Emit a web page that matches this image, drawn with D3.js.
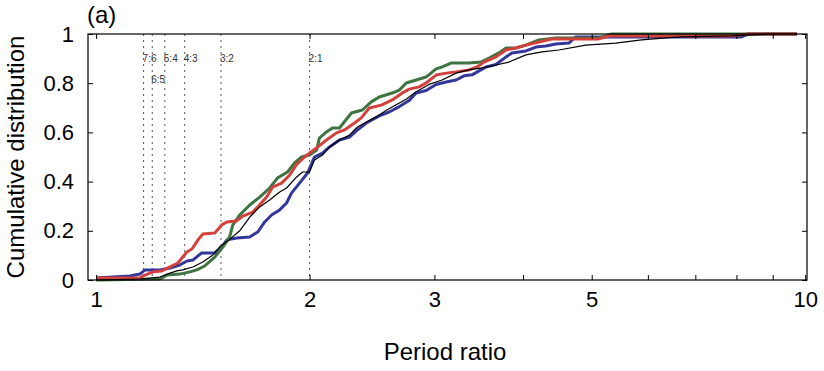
<!DOCTYPE html>
<html>
<head>
<meta charset="utf-8">
<script src="https://cdn.jsdelivr.net/npm/d3@7"></script>
<style>
  body { margin: 0; background: #fff; }
  svg { font-family: "Liberation Sans", Arial, Helvetica, sans-serif; }
  .axis path { display: none; }
  .axis line { stroke: #000; }
  .axis text { font-size: 22px; fill: #000; }
</style>
</head>
<body>
<div id="chart"></div>
<script>
// period ratio / cumulative fraction
const blueData = [
  [1.000, 0.008], [1.116, 0.016], [1.153, 0.024], [1.172, 0.041], [1.230, 0.041], [1.271, 0.049],
  [1.312, 0.061], [1.343, 0.077], [1.369, 0.081], [1.409, 0.110], [1.470, 0.110], [1.504, 0.134],
  [1.529, 0.163], [1.579, 0.171], [1.647, 0.175], [1.690, 0.195], [1.729, 0.236], [1.768, 0.264],
  [1.815, 0.285], [1.856, 0.313], [1.887, 0.354], [1.936, 0.394], [1.987, 0.435], [2.032, 0.500],
  [2.086, 0.516], [2.134, 0.541], [2.204, 0.569], [2.277, 0.581], [2.336, 0.610], [2.405, 0.638],
  [2.508, 0.667], [2.590, 0.683], [2.677, 0.705], [2.764, 0.730], [2.827, 0.760], [2.920, 0.770],
  [3.016, 0.795], [3.116, 0.805], [3.219, 0.813], [3.303, 0.830], [3.390, 0.834], [3.468, 0.850],
  [3.548, 0.866], [3.664, 0.876], [3.785, 0.907], [3.859, 0.923], [4.038, 0.931], [4.171, 0.947],
  [4.307, 0.951], [4.450, 0.959], [4.642, 0.963], [4.748, 0.988], [8.128, 0.988], [8.314, 1.000],
  [9.740, 1.000]
];
const greenData = [
  [1.000, 0.000], [1.230, 0.004], [1.259, 0.020], [1.312, 0.024], [1.356, 0.033], [1.387, 0.041],
  [1.423, 0.057], [1.470, 0.093], [1.509, 0.134], [1.543, 0.175], [1.559, 0.224], [1.594, 0.264],
  [1.647, 0.305], [1.701, 0.337], [1.757, 0.374], [1.803, 0.415], [1.862, 0.439], [1.905, 0.476],
  [1.949, 0.500], [2.000, 0.508], [2.046, 0.528], [2.065, 0.577], [2.113, 0.602], [2.154, 0.618],
  [2.204, 0.618], [2.291, 0.679], [2.374, 0.691], [2.444, 0.724], [2.508, 0.744], [2.616, 0.760],
  [2.677, 0.772], [2.737, 0.801], [2.827, 0.813], [2.920, 0.825], [3.016, 0.858], [3.076, 0.866],
  [3.167, 0.882], [3.357, 0.882], [3.490, 0.886], [3.583, 0.902], [3.700, 0.923], [3.785, 0.943],
  [3.909, 0.943], [4.038, 0.955], [4.211, 0.976], [4.450, 0.984], [5.116, 0.984], [5.334, 1.000],
  [9.740, 1.000]
];
const redData = [
  [1.000, 0.008], [1.153, 0.008], [1.172, 0.020], [1.203, 0.033], [1.238, 0.037], [1.263, 0.049],
  [1.304, 0.069], [1.343, 0.114], [1.365, 0.126], [1.392, 0.163], [1.414, 0.187], [1.470, 0.191],
  [1.504, 0.224], [1.529, 0.236], [1.579, 0.240], [1.610, 0.260], [1.663, 0.276], [1.690, 0.297],
  [1.740, 0.337], [1.774, 0.378], [1.827, 0.394], [1.875, 0.427], [1.918, 0.470], [1.968, 0.500],
  [2.000, 0.516], [2.046, 0.537], [2.113, 0.569], [2.183, 0.598], [2.240, 0.610], [2.314, 0.638],
  [2.366, 0.659], [2.428, 0.699], [2.525, 0.711], [2.616, 0.732], [2.703, 0.760], [2.764, 0.776],
  [2.855, 0.785], [2.920, 0.801], [3.016, 0.833], [3.116, 0.841], [3.219, 0.846], [3.357, 0.854],
  [3.445, 0.866], [3.525, 0.886], [3.664, 0.907], [3.785, 0.935], [3.909, 0.943], [4.038, 0.955],
  [4.211, 0.967], [4.392, 0.980], [5.116, 0.980], [5.284, 0.992], [7.871, 0.992], [8.314, 1.000],
  [9.740, 1.000]
];
const blackData = [
  [1.000, 0.000], [1.153, 0.004], [1.230, 0.012], [1.271, 0.028], [1.300, 0.037], [1.325, 0.041],
  [1.369, 0.053], [1.414, 0.073], [1.461, 0.102], [1.494, 0.135], [1.543, 0.165], [1.594, 0.200],
  [1.647, 0.256], [1.701, 0.297], [1.757, 0.325], [1.815, 0.358], [1.856, 0.374], [1.918, 0.419],
  [1.955, 0.439], [2.000, 0.439], [2.032, 0.488], [2.086, 0.508], [2.134, 0.541], [2.204, 0.569],
  [2.277, 0.589], [2.336, 0.622], [2.405, 0.642], [2.484, 0.663], [2.566, 0.690], [2.650, 0.712],
  [2.737, 0.735], [2.827, 0.765], [2.949, 0.795], [3.076, 0.813], [3.219, 0.841], [3.357, 0.854],
  [3.502, 0.862], [3.664, 0.874], [3.822, 0.886], [4.038, 0.915], [4.252, 0.927], [4.494, 0.935],
  [4.905, 0.955], [5.403, 0.963], [5.880, 0.976], [6.355, 0.984], [6.693, 0.988], [7.871, 0.992],
  [8.959, 1.000], [9.740, 1.000]
];

const resonances = ["7:6", "6:5", "5:4", "4:3", "3:2", "2:1"];
const resonanceValues = [7 / 6, 6 / 5, 5 / 4, 4 / 3, 3 / 2, 2];
const xTicks = [1, 2, 3, 4, 5, 6, 7, 8, 9, 10];
const xTickLabels = [1, 2, 3, 5, 10];
const yTicks = [0, 0.2, 0.4, 0.6, 0.8, 1];

const width = 824, height = 371;
const svg = d3.select("#chart").append("svg")
    .attr("width", width)
    .attr("height", height);

let x = d3.scaleLog().domain([0.974, 10.06]).range([88, 807]);
let y = d3.scaleLinear().domain([0, 1]).range([280, 34]);

// resonance markers
let res = svg.append("g");
res.selectAll("line")
    .data(resonanceValues)
    .join("line")
    .attr("x1", d => x(d)).attr("x2", d => x(d))
    .attr("y1", y(1)).attr("y2", y(0))
    .attr("stroke", "#555")
    .attr("stroke-width", 1)
    .attr("stroke-dasharray", "2,4");
res.selectAll("text")
    .data(resonances)
    .join("text")
    .attr("x", (d, i) => x(resonanceValues[i]) - 1)
    .attr("y", (d, i) => d == "6:5" ? 83 : 62)
    .attr("font-size", 10)
    .attr("fill", "#333")
    .text(d => d);

// cumulative curves
let line = d3.line().x(d => x(d[0])).y(d => y(d[1]));
const series = [
    {data: blueData, color: "#34379a", w: 3},
    {data: greenData, color: "#3e7342", w: 3},
    {data: redData, color: "#d4403c", w: 3},
    {data: blackData, color: "#000", w: 1.2}
];
svg.append("g").selectAll("path")
    .data(series)
    .join("path")
    .attr("d", d => line(d.data))
    .attr("fill", "none")
    .attr("stroke", d => d.color)
    .attr("stroke-width", d => d.w)
    .attr("stroke-linejoin", "round");

// axes, ticks pointing inward
svg.append("g").attr("class", "axis")
    .attr("transform", `translate(0,${y.range()[0]})`)
    .call(d3.axisBottom(x).tickValues(xTicks).tickSize(-5).tickPadding(11)
        .tickFormat(d => xTickLabels.includes(d) ? d : ""));
svg.append("g").attr("class", "axis")
    .attr("transform", `translate(0,${y.range()[1]})`)
    .call(d3.axisTop(x).tickValues(xTicks).tickSize(-5).tickFormat(""));
svg.append("g").attr("class", "axis")
    .attr("transform", `translate(${x.range()[0]},0)`)
    .call(d3.axisLeft(y).tickValues(yTicks).tickSize(-5).tickPadding(14)
        .tickFormat(d => d3.format("")(d)));
svg.append("g").attr("class", "axis")
    .attr("transform", `translate(${x.range()[1]},0)`)
    .call(d3.axisRight(y).tickValues(yTicks).tickSize(-5).tickFormat(""));

svg.append("rect")
    .attr("x", x.range()[0]).attr("y", y.range()[1])
    .attr("width", x.range()[1] - x.range()[0])
    .attr("height", y.range()[0] - y.range()[1])
    .attr("fill", "none").attr("stroke", "#000").attr("stroke-width", 1.2);

// labels
svg.append("text")
    .attr("x", 87).attr("y", 23)
    .attr("font-size", 24)
    .text("(a)");
svg.append("text")
    .attr("transform", `translate(24,${(y.range()[0] + y.range()[1]) / 2}) rotate(-90)`)
    .attr("text-anchor", "middle")
    .attr("font-size", 24)
    .text("Cumulative distribution");
svg.append("text")
    .attr("x", 445).attr("y", 360)
    .attr("text-anchor", "middle")
    .attr("font-size", 24)
    .text("Period ratio");
</script>
</body>
</html>
